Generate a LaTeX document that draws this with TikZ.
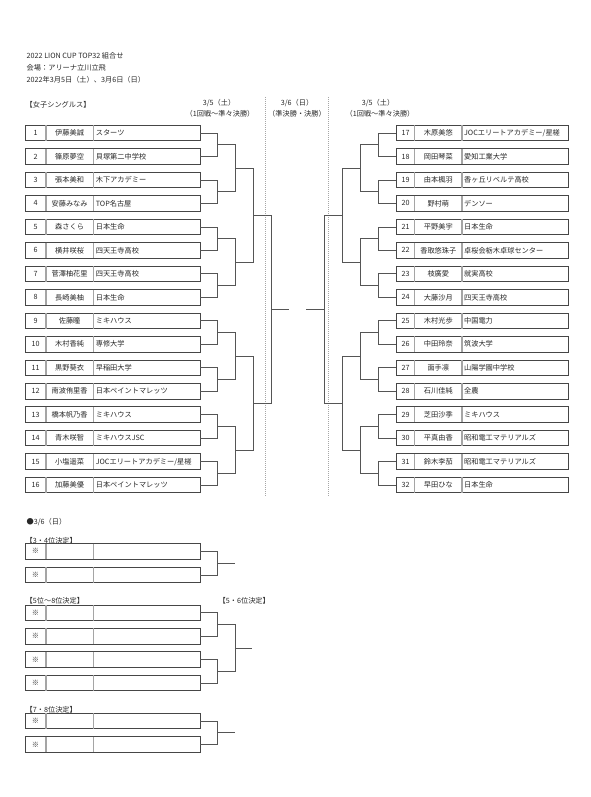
\documentclass[tikz,border=0pt]{standalone}
\usepackage{fontspec}
\setmainfont{Noto Sans CJK JP}
\definecolor{bkline}{RGB}{85,85,85}
\definecolor{bkgrid}{RGB}{165,165,165}
\definecolor{bkframe}{RGB}{70,70,70}
\definecolor{bktext}{RGB}{40,40,40}
\usetikzlibrary{calc,positioning}

\begin{document}
\begin{tikzpicture}[x=1pt,y=-1pt,
  font=\fontsize{7.2}{8.6}\selectfont,
  pbox/.style={draw=bkframe,line width=0.8pt,minimum width=174.5pt,minimum height=15.5pt,inner sep=0pt},
  qbox/.style={pbox,minimum width=172pt},
  cell/.style={inner sep=0pt,text=bktext},
  sep/.style={bkgrid,line width=1.2pt},
  bline/.style={bkline,line width=0.7pt},
  lbl/.style={inner sep=0pt,anchor=west,text=bktext}
]
  \useasboundingbox (0,0) rectangle (590,797);

  % Headings
  \node[lbl] (title) at (26.5,55.7) {2022 LION CUP TOP32 組合せ};
  \node[lbl] (venue) at (26.5,67.7) {会場：アリーナ立川立飛};
  \node[lbl] (dates) at (26.5,80) {2022年3月5日（土）、3月6日（日）};
  \node[lbl] (event) at (25.5,104.3) {【女子シングルス】};
  \node[cell] (day1l) at (219,103.3) {3/5（土）};
  \node[cell] (rnd1l) at (220,114) {（1回戦～準々決勝）};
  \node[cell] (day2c) at (297,103.3) {3/6（日）};
  \node[cell] (rnd2c) at (297,114) {（準決勝・決勝）};
  \node[cell] (day1r) at (378,103.3) {3/5（土）};
  \node[cell] (rnd1r) at (380,114) {（1回戦～準々決勝）};
  \draw[gray!70,line width=0.5pt,dash pattern=on 1pt off 1pt] (265.7,97) -- (265.7,496);
  \draw[gray!70,line width=0.5pt,dash pattern=on 1pt off 1pt] (328.3,97) -- (328.3,496);

  % Left half
  \foreach \i/\nm/\tm in {1/伊藤美誠/スターツ, 2/篠原夢空/貝塚第二中学校,
      3/張本美和/木下アカデミー, 4/安藤みなみ/TOP名古屋, 5/森さくら/日本生命,
      6/横井咲桜/四天王寺高校, 7/菅澤柚花里/四天王寺高校, 8/長崎美柚/日本生命,
      9/佐藤瞳/ミキハウス, 10/木村香純/専修大学, 11/黒野葵衣/早稲田大学,
      12/南波侑里香/日本ペイントマレッツ, 13/橋本帆乃香/ミキハウス,
      14/青木咲智/ミキハウスJSC, 15/小塩遥菜/{JOCエリートアカデミー/星槎},
      16/加藤美優/日本ペイントマレッツ} {
    \node[pbox] (p\i) at (112.75,{133+(\i-1)*23.47}) {};
    \draw[sep] ([xshift=20.8pt,yshift=-0.4pt]p\i.north west) -- ([xshift=20.8pt,yshift=0.4pt]p\i.south west);
    \draw[sep] ([xshift=68.2pt,yshift=-0.4pt]p\i.north west) -- ([xshift=68.2pt,yshift=0.4pt]p\i.south west);
    \node[cell] (p\i-no) at ([xshift=10.4pt]p\i.west) {\i};
    \node[cell] (p\i-nm) at ([xshift=44.5pt]p\i.west) {\nm};
    \node[cell,anchor=west] (p\i-tm) at ([xshift=70.5pt]p\i.west) {\tm};
  }

  % Right half
  \foreach \i/\nm/\tm in {17/木原美悠/{JOCエリートアカデミー/星槎}, 18/岡田琴菜/愛知工業大学,
      19/由本楓羽/香ヶ丘リベルテ高校, 20/野村萌/デンソー, 21/平野美宇/日本生命,
      22/香取悠珠子/卓桜会栃木卓球センター, 23/枝廣愛/就実高校, 24/大藤沙月/四天王寺高校,
      25/木村光歩/中国電力, 26/中田玲奈/筑波大学, 27/面手凛/山陽学園中学校,
      28/石川佳純/全農, 29/芝田沙季/ミキハウス, 30/平真由香/昭和電工マテリアルズ,
      31/鈴木李茄/昭和電工マテリアルズ, 32/早田ひな/日本生命} {
    \node[qbox] (p\i) at (482.7,{133+(\i-17)*23.47}) {};
    \draw[sep] ([xshift=18.3pt,yshift=-0.4pt]p\i.north west) -- ([xshift=18.3pt,yshift=0.4pt]p\i.south west);
    \draw[sep] ([xshift=65.6pt,yshift=-0.4pt]p\i.north west) -- ([xshift=65.6pt,yshift=0.4pt]p\i.south west);
    \node[cell] (p\i-no) at ([xshift=9.2pt]p\i.west) {\i};
    \node[cell] (p\i-nm) at ([xshift=42pt]p\i.west) {\nm};
    \node[cell,anchor=west] (p\i-tm) at ([xshift=67.6pt]p\i.west) {\tm};
  }

  % Bracket, left
  \foreach \k in {1,...,8} {
    \pgfmathtruncatemacro\u{2*\k-1}
    \pgfmathtruncatemacro\v{2*\k}
    \coordinate (a\k) at ([xshift=17pt]$(p\u.east)!.5!(p\v.east)$);
    \draw[bline] (p\u.east) -| (a\k) |- (p\v.east);
  }
  \foreach \k in {1,...,4} {
    \pgfmathtruncatemacro\u{2*\k-1}
    \pgfmathtruncatemacro\v{2*\k}
    \coordinate (b\k) at ([xshift=18pt]$(a\u)!.5!(a\v)$);
    \draw[bline] (a\u) -| (b\k) |- (a\v);
  }
  \coordinate (c1) at ([xshift=18pt]$(b1)!.5!(b2)$);
  \coordinate (c2) at ([xshift=18pt]$(b3)!.5!(b4)$);
  \draw[bline] (b1) -| (c1) |- (b2);
  \draw[bline] (b3) -| (c2) |- (b4);
  \coordinate (d1) at ([xshift=18pt]$(c1)!.5!(c2)$);
  \draw[bline] (c1) -| (d1) |- (c2);
  \coordinate (fl) at ([xshift=18pt]d1);
  \draw[bline] (d1) -- (fl);

  % Bracket, right
  \foreach \k in {9,...,16} {
    \pgfmathtruncatemacro\u{2*\k-1}
    \pgfmathtruncatemacro\v{2*\k}
    \coordinate (a\k) at ([xshift=-18pt]$(p\u.west)!.5!(p\v.west)$);
    \draw[bline] (p\u.west) -| (a\k) |- (p\v.west);
  }
  \foreach \k in {5,...,8} {
    \pgfmathtruncatemacro\u{2*\k-1}
    \pgfmathtruncatemacro\v{2*\k}
    \coordinate (b\k) at ([xshift=-18pt]$(a\u)!.5!(a\v)$);
    \draw[bline] (a\u) -| (b\k) |- (a\v);
  }
  \coordinate (c3) at ([xshift=-18pt]$(b5)!.5!(b6)$);
  \coordinate (c4) at ([xshift=-18pt]$(b7)!.5!(b8)$);
  \draw[bline] (b5) -| (c3) |- (b6);
  \draw[bline] (b7) -| (c4) |- (b8);
  \coordinate (d2) at ([xshift=-18pt]$(c3)!.5!(c4)$);
  \draw[bline] (c3) -| (d2) |- (c4);
  \coordinate (fr) at ([xshift=-18pt]d2);
  \draw[bline] (d2) -- (fr);

  % 3/6 placing matches
  \node[lbl] (day2) at (26.5,522.3) {●3/6（日）};
  \node[lbl] (h34) at (25.5,540.7) {【3・4位決定】};
  \node[lbl] (h58) at (25.5,601) {【5位～8位決定】};
  \node[lbl] (h56) at (218.5,601) {【5・6位決定】};
  \node[lbl] (h78) at (25.5,709.3) {【7・8位決定】};
  \foreach \n/\y in {t1/551.3, t2/575, f1/612.8, f2/636.2, f3/659.5, f4/683, s1/721, s2/744.5} {
    \node[pbox] (\n) at (112.75,\y) {};
    \draw[sep] ([xshift=20.8pt,yshift=-0.4pt]\n.north west) -- ([xshift=20.8pt,yshift=0.4pt]\n.south west);
    \draw[sep] ([xshift=68.2pt,yshift=-0.4pt]\n.north west) -- ([xshift=68.2pt,yshift=0.4pt]\n.south west);
    \node[cell] (\n-no) at ([xshift=10.4pt]\n.west) {※};
  }
  \coordinate (tj) at ([xshift=17pt]$(t1.east)!.5!(t2.east)$);
  \draw[bline] (t1.east) -| (tj) |- (t2.east);
  \coordinate (tw) at ([xshift=17.5pt]tj);
  \draw[bline] (tj) -- (tw);
  \coordinate (fj1) at ([xshift=17pt]$(f1.east)!.5!(f2.east)$);
  \coordinate (fj2) at ([xshift=17pt]$(f3.east)!.5!(f4.east)$);
  \draw[bline] (f1.east) -| (fj1) |- (f2.east);
  \draw[bline] (f3.east) -| (fj2) |- (f4.east);
  \coordinate (fk) at ([xshift=17.5pt]$(fj1)!.5!(fj2)$);
  \draw[bline] (fj1) -| (fk) |- (fj2);
  \coordinate (fw) at ([xshift=17.5pt]fk);
  \draw[bline] (fk) -- (fw);
  \coordinate (sj) at ([xshift=17pt]$(s1.east)!.5!(s2.east)$);
  \draw[bline] (s1.east) -| (sj) |- (s2.east);
  \coordinate (sw) at ([xshift=17.5pt]sj);
  \draw[bline] (sj) -- (sw);
\end{tikzpicture}
\end{document}
